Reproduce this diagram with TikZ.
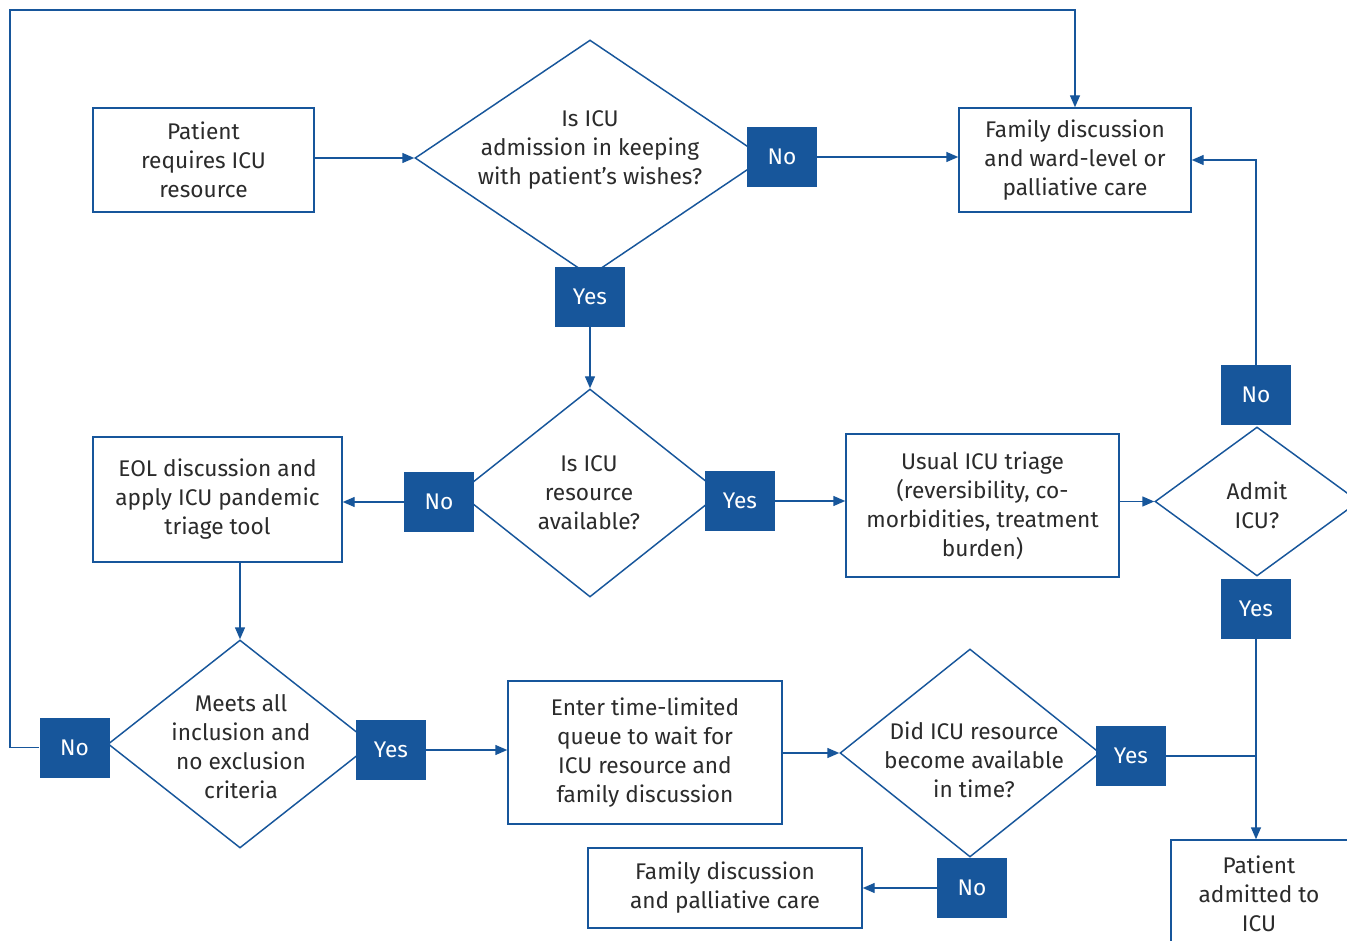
\documentclass[tikz,border=0pt]{standalone}
\usepackage{fontspec}
\setmainfont{Fira Sans}
\usetikzlibrary{shapes.geometric,arrows.meta}
\definecolor{nblue}{HTML}{17569B}
\definecolor{ntext}{HTML}{2B2B2B}
\newcommand\flowfs{\fontsize{17}{21.75}\selectfont}
\begin{document}
\begin{tikzpicture}[x=0.75pt,y=-0.75pt,
  line/.style={draw=nblue,line width=1.1pt},
  arr/.style={line,-{Triangle[length=9pt,width=7.5pt]}},
  box/.style 2 args={draw=nblue,line width=1.1pt,fill=white,inner sep=0pt,
    text=ntext,align=center,font=\flowfs,minimum width=#1*0.75pt,minimum height=#2*0.75pt},
  dia/.style 2 args={diamond,draw=nblue,line width=1.1pt,fill=white,inner sep=0pt,
    minimum width=#1*0.75pt,minimum height=#2*0.75pt},
  dtext/.style={text=ntext,align=center,font=\flowfs,inner sep=0pt},
  tag/.style={fill=nblue,text=white,font=\flowfs,inner sep=0pt,
    minimum width=52.5pt,minimum height=45pt}
]
\useasboundingbox (0,0) rectangle (1347,941);
\clip (0,0) rectangle (1347,941);
\fill[white] (0,0) rectangle (1347,941);

% boxes
\node[box={221}{104}] (p1) at (203.5,160) {Patient\\requires ICU\\resource};
\node[box={232}{104}] (fam1) at (1075,160) {Family discussion\\and ward-level or\\palliative care};
\node[box={249}{125}] (eol) at (217.5,499.5) {EOL discussion and\\apply ICU pandemic\\triage tool};
\node[box={273}{143}] (usual) at (982.5,505.5) {Usual ICU triage\\(reversibility, co-\\morbidities, treatment\\burden)};
\node[box={274}{143}] (enter) at (645,752.5) {Enter time-limited\\queue to wait for\\ICU resource and\\family discussion};
\node[box={274}{80}] (fam2) at (725,888) {Family discussion\\and palliative care};
\node[box={190}{160}] (adm) at (1266,920) {};
\node[dtext] (admt) at (1259,894) {Patient\\admitted to\\ICU};

% diamonds
\node[dia={350}{236}] (d1) at (590,158) {};
\node[dtext] (d1t) at (590,150) {Is ICU\\admission in keeping\\with patient's wishes?};
\node[dia={262}{208}] (d2) at (590,493) {};
\node[dtext] (d2t) at (589,493) {Is ICU\\resource\\available?};
\node[dia={204}{149}] (d3) at (1257,501.5) {};
\node[dtext] (d3t) at (1257,505) {Admit\\ICU?};
\node[dia={264}{208}] (d4) at (240,744) {};
\node[dtext] (d4t) at (241,747) {Meets all\\inclusion and\\no exclusion\\criteria};
\node[dia={260}{208}] (d5) at (970,753) {};
\node[dtext] (d5t) at (974,760) {Did ICU resource\\become available\\in time?};

% tags
\node[tag] (no1) at (782,157) {No};
\node[tag] (yes1) at (590,297) {Yes};
\node[tag] (no2) at (439,502) {No};
\node[tag] (yes2) at (740,501) {Yes};
\node[tag] (no3) at (1256,395) {No};
\node[tag] (yes3) at (1256,609) {Yes};
\node[tag] (no4) at (74.5,747.5) {No};
\node[tag] (yes4) at (391,750) {Yes};
\node[tag] (yes5) at (1131,756) {Yes};
\node[tag] (no5) at (972,888) {No};

% connectors
\coordinate (c1) at (10,10);
\draw[arr] (p1.east |- d1.west) -- (d1.west);
\draw[arr] (no1.east) -- (no1.east -| fam1.west);
\draw[arr] (yes1.south) -- (d2.north);
\draw[arr] (no2.west) -- (no2.west -| eol.east);
\draw[arr] (yes2.east) -- (yes2.east -| usual.west);
\draw[arr] (usual.east |- d3.west) -- (d3.west);
\draw[arr] (no3.north) |- (fam1.east);
\draw[arr] (eol.south -| d4.north) -- (d4.north);
\draw[arr] (no4.west) -| (c1) -| (fam1.north);
\draw[arr] (yes4.east) -- (yes4.east -| enter.west);
\draw[arr] (enter.east |- d5.west) -- (d5.west);
\draw[line] (yes5.east) -- (yes5.east -| yes3.south);
\draw[arr] (yes3.south) -- (yes3.south |- adm.north);
\draw[arr] (no5.west) -- (no5.west -| fam2.east);
\end{tikzpicture}
\end{document}
